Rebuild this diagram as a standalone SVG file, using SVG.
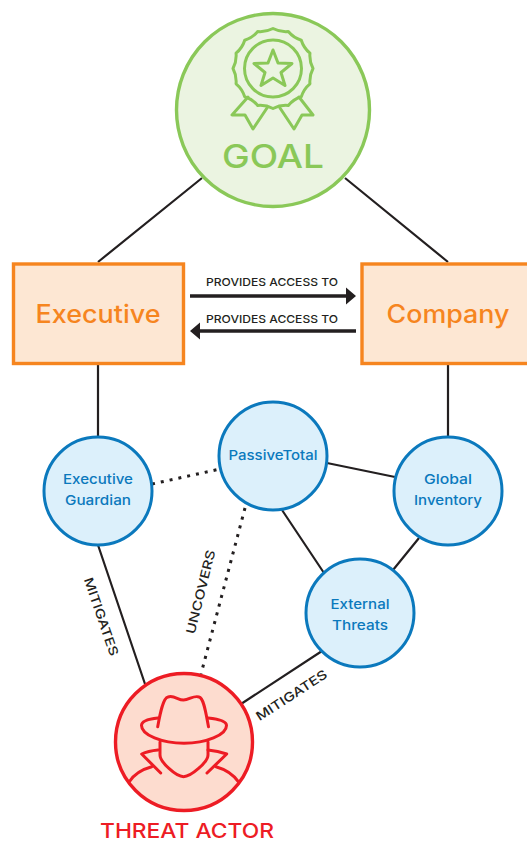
<svg xmlns="http://www.w3.org/2000/svg" width="527" height="842" viewBox="0 0 527 842">
<style>
text{font-family:Inter,"Liberation Sans",sans-serif;text-anchor:middle}
.c{stroke:#231f20;stroke-width:2.2;fill:none}
.d{stroke:#231f20;stroke-width:3;stroke-dasharray:3 6;fill:none}
.a{stroke:#231f20;stroke-width:3.4;fill:none}
.h{fill:#231f20}
.l{font-size:11px;font-weight:500;fill:#231f20}
.m{font-size:12.500px;font-weight:500;fill:#231f20}
.b{fill:#dcf0fb;stroke:#0b79bd;stroke-width:3}
.bt{font-size:13.500px;font-weight:500;fill:#0b79bd}
.r{fill:#fde7d3;stroke:#f6851f;stroke-width:3.4}
.rt{font-size:25px;font-weight:500;fill:#f6851f}
.g{fill:none;stroke:#8ac858;stroke-width:3;stroke-linejoin:round;stroke-linecap:round}
.t{fill:none;stroke:#ed1c24;stroke-width:3;stroke-linejoin:round;stroke-linecap:round}
</style>
<g id="connectors">
<path class="c" d="M202,178L98,262M345,178L448,262M98,364V437M448,364V437M327,463L395,477M282,510L324,573M419,538L393,570M98,545L145,684M322,651L241,704"/>
<path class="d" d="M152,484L220,469M245,508L201,674"/>
<path class="a" d="M190,296H348M356,331H198"/>
<path class="h" d="M356,296L346,287.500V304.500ZM190,331L200,322.500V339.500Z"/>
<text class="l" x="272" y="286" textLength="132" lengthAdjust="spacingAndGlyphs">PROVIDES ACCESS TO</text>
<text class="l" x="272" y="323" textLength="132" lengthAdjust="spacingAndGlyphs">PROVIDES ACCESS TO</text>
<text class="m" transform="translate(97,618) rotate(71)" textLength="82" lengthAdjust="spacingAndGlyphs">MITIGATES</text>
<text class="m" transform="translate(205,593) rotate(-76)" textLength="86" lengthAdjust="spacingAndGlyphs">UNCOVERS</text>
<text class="m" transform="translate(294,699) rotate(-33)" textLength="82" lengthAdjust="spacingAndGlyphs">MITIGATES</text>
</g>
<g id="goal">
<circle cx="273" cy="110" r="96.500" fill="#ebf4e1" stroke="#8ac858" stroke-width="3.400"/>
<path class="g" transform="translate(273,68.500)" d="M0,-40Q7.200,-36.200 15.310,-36.960Q20.500,-30.700 28.280,-28.280Q30.700,-20.500 36.960,-15.310Q36.200,-7.200 40,0Q36.200,7.200 36.960,15.310Q30.700,20.500 28.280,28.280Q20.500,30.700 15.310,36.960Q7.200,36.200 0,40Q-7.200,36.200 -15.310,36.960Q-20.500,30.700 -28.280,28.280Q-30.700,20.500 -36.960,15.310Q-36.200,7.200 -40,0Q-36.200,-7.200 -36.960,-15.310Q-30.700,-20.500 -28.280,-28.280Q-20.500,-30.700 -15.310,-36.960Q-7.200,-36.200 0,-40Z"/>
<circle class="g" cx="273" cy="68.500" r="28.500"/>
<path class="g" d="M273,50L278,63L292,63.500L281,72.500L285,85.500L273,78L261,85.500L265,72.500L254,63.500L268,63Z"/>
<path class="g" d="M248,97L232,115L245,115L253,129L267,108M299,97L313,115L302,115L294,129L280,108"/>
<text x="273" y="168" font-size="33" font-weight="500" fill="#8ac858" textLength="102" lengthAdjust="spacingAndGlyphs">GOAL</text>
</g>
<g id="executive">
<rect class="r" x="13.500" y="264" width="170" height="99.500"/>
<text class="rt" x="98" y="323" textLength="125" lengthAdjust="spacingAndGlyphs">Executive</text>
</g>
<g id="company">
<rect class="r" x="362" y="264" width="170" height="99.500"/>
<text class="rt" x="448" y="323" textLength="123" lengthAdjust="spacingAndGlyphs">Company</text>
</g>
<g id="executive-guardian">
<circle class="b" cx="98" cy="491" r="54"/>
<text class="bt" x="98" y="484" textLength="70" lengthAdjust="spacingAndGlyphs">Executive</text>
<text class="bt" x="98" y="505" textLength="66" lengthAdjust="spacingAndGlyphs">Guardian</text>
</g>
<g id="passivetotal">
<circle class="b" cx="273" cy="456" r="54"/>
<text class="bt" x="273" y="460" textLength="89" lengthAdjust="spacingAndGlyphs">PassiveTotal</text>
</g>
<g id="global-inventory">
<circle class="b" cx="448" cy="491" r="54"/>
<text class="bt" x="448" y="484" textLength="48" lengthAdjust="spacingAndGlyphs">Global</text>
<text class="bt" x="448" y="505" textLength="68" lengthAdjust="spacingAndGlyphs">Inventory</text>
</g>
<g id="external-threats">
<circle class="b" cx="360" cy="613" r="54"/>
<text class="bt" x="360" y="609" textLength="59" lengthAdjust="spacingAndGlyphs">External</text>
<text class="bt" x="360" y="630" textLength="56" lengthAdjust="spacingAndGlyphs">Threats</text>
</g>
<g id="threat-actor">
<circle cx="184" cy="742" r="68.500" fill="#fddccf" stroke="#ed1c24" stroke-width="3.400"/>
<path class="t" d="M157.700,726.700C160,714 163,698 168,697C174,695 178,700 183.500,700C189,700 194,695 199,697C204,698 206,714 208.500,726.700"/>
<path class="t" d="M158,718C148,719 141.500,721 141.500,725.500C141.500,735 162,743.300 184,743.300C206,743.300 226.500,735 226.500,725.500C226.500,721 218,719 208,718"/>
<path class="t" d="M160,742V755C160,762 176,776.700 183.500,776.700C191,776.700 208,762 208,755V742"/>
<path class="t" d="M158,750Q148,751 141.700,754L160.700,773M208,750Q218,751 226.700,754L207,773"/>
<path class="t" d="M129.300,781.700Q136,771 151.700,766.700M238.300,781.700Q231,771 216,766.700"/>
<text x="187" y="838" font-size="20" font-weight="500" fill="#ed1c24" textLength="174" lengthAdjust="spacingAndGlyphs">THREAT ACTOR</text>
</g>
</svg>
